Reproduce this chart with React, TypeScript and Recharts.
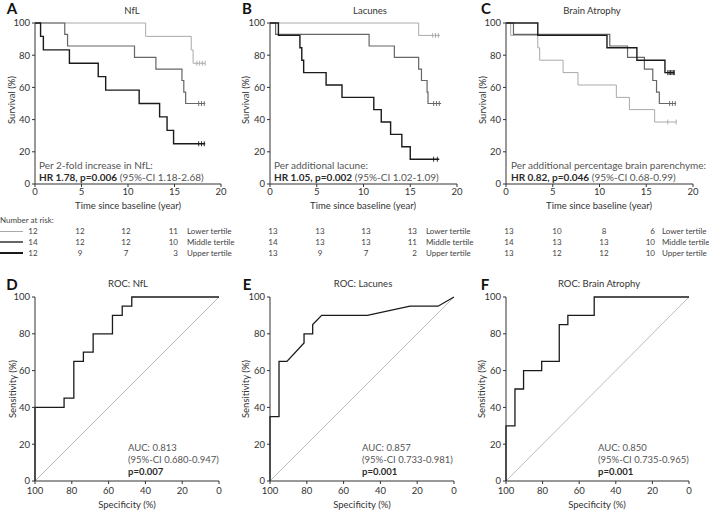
import { ComposedChart, LineChart, Line, Scatter, XAxis, YAxis } from "recharts"

// Kaplan-Meier, panel A (NfL)
const nflLowerTime = [0, 11.9, 16.8, 17.0, 18.3]
const nflLowerSurv = [100, 91.7, 83.3, 75.0, 75.0]
const nflLowerCens = [17.4, 17.7, 18.0, 18.3]
const nflMiddleTime = [0, 3.2, 3.5, 10.7, 13.0, 15.8, 16.0, 16.2, 18.3]
const nflMiddleSurv = [100, 92.9, 85.7, 78.6, 71.4, 64.3, 57.1, 50.0, 50.0]
const nflMiddleCens = [17.6, 17.9, 18.2]
const nflUpperTime = [0, 0.6, 0.9, 3.7, 6.8, 7.6, 11.2, 13.4, 14.2, 14.9, 18.3]
const nflUpperSurv = [100, 91.7, 83.3, 75.0, 66.7, 58.3, 50.0, 41.7, 33.3, 25.0, 25.0]
const nflUpperCens = [17.6, 17.9, 18.2]

// panel B (Lacunes)
const lacLowerTime = [0, 15.9, 18.2]
const lacLowerSurv = [100, 92.3, 92.3]
const lacLowerCens = [17.4, 17.7, 18.0]
const lacMiddleTime = [0, 0.6, 10.6, 13.3, 15.9, 16.2, 16.8, 16.9, 18.3]
const lacMiddleSurv = [100, 92.9, 85.7, 78.6, 71.4, 64.3, 57.1, 50.0, 50.0]
const lacMiddleCens = [17.5, 17.8, 18.1]
const lacUpperTime = [0, 0.9, 3.2, 3.4, 3.6, 6.0, 7.7, 11.1, 11.9, 12.9, 14.1, 15.0, 18.1]
const lacUpperSurv = [100, 92.3, 84.6, 76.9, 69.2, 61.5, 53.8, 46.2, 38.5, 30.8, 23.1, 15.4, 15.4]
const lacUpperCens = [17.5, 17.9]

// panel C (Brain Atrophy)
const atrLowerTime = [0, 0.5, 3.4, 3.6, 6.1, 7.7, 11.8, 13.2, 15.9, 18.2]
const atrLowerSurv = [100, 92.3, 84.6, 76.9, 69.2, 61.5, 53.8, 46.2, 38.5, 38.5]
const atrLowerCens = [17.3, 18.2]
const atrMiddleTime = [0, 0.8, 11.1, 13.0, 14.8, 15.7, 16.1, 16.4, 18.2]
const atrMiddleSurv = [100, 92.9, 85.7, 78.6, 71.4, 64.3, 57.1, 50.0, 50.0]
const atrMiddleCens = [17.5, 17.8, 18.1]
const atrUpperTime = [0, 3.4, 10.8, 14.0, 17.0, 18.0]
const atrUpperSurv = [100, 92.3, 84.6, 76.9, 69.2, 69.2]
const atrUpperCens = [17.3, 17.45, 17.6, 17.75, 17.9, 18.0]

// number at risk (at 0, 5, 10, 15 years)
const riskNfl = [[12, 12, 12, 11], [14, 12, 12, 10], [12, 9, 7, 3]]
const riskLac = [[13, 13, 13, 13], [14, 13, 13, 11], [13, 9, 7, 2]]
const riskAtr = [[13, 10, 8, 6], [14, 13, 13, 10], [13, 12, 12, 10]]
const tertileNames = ["Lower tertile", "Middle tertile", "Upper tertile"]

// ROC curves: specificity (%) and sensitivity (%)
const rocNflSpec = [100, 100, 84.2, 84.2, 78.9, 78.9, 73.7, 73.7, 68.4, 68.4, 57.9, 57.9, 52.6, 52.6, 47.4, 47.4, 0]
const rocNflSens = [0, 40, 40, 45, 45, 65, 65, 70, 70, 80, 80, 90, 90, 95, 95, 100, 100]
const rocLacSpec = [100, 100, 95.1, 95.1, 90.8, 81.5, 81.5, 76.8, 76.8, 71.9, 47.1, 23.9, 8.7, 0]
const rocLacSens = [0, 35, 35, 65, 65, 75, 80, 80, 85, 90, 90, 95, 95, 100]
const rocAtrSpec = [100, 100, 95.1, 95.1, 90.4, 90.4, 80.5, 80.5, 70.9, 70.9, 66.2, 66.2, 51.8, 51.8, 0]
const rocAtrSens = [0, 30, 30, 50, 50, 60, 60, 65, 65, 85, 85, 90, 90, 100, 100]

const kmTicksX = [0, 5, 10, 15, 20]
const pctTicks = [0, 20, 40, 60, 80, 100]

const FONT = "Lato, 'Open Sans', sans-serif"
const AXIS = "#333"
const LOWER = "#a9a9a9"
const MIDDLE = "#666"
const UPPER = "#1a1a1a"

const kmRows = (t: number[], s: number[]) => t.map((v, i) => ({ t: v, s: s[i] }))
const censRows = (t: number[], s: number) => t.map((v) => ({ t: v, s }))
const rocRows = (x: number[], y: number[]) => x.map((v, i) => ({ spec: v, sens: y[i] }))
const diagonal = rocRows([100, 0], [0, 100])

const tickStyle = { fontSize: 9.5, fill: "#333", fontFamily: FONT }

function Txt({ x, y, children, anchor = "start", size = 10, weight = 400, color = "#333", rotate = 0 }: any) {
  const tx = anchor === "middle" ? "-50%" : anchor === "end" ? "-100%" : "0"
  return (
    <div
      style={{
        position: "absolute",
        left: x,
        top: y,
        whiteSpace: "nowrap",
        lineHeight: 1,
        fontFamily: FONT,
        fontSize: size,
        fontWeight: weight,
        color,
        transform: `translate(${rotate ? "-50%" : tx}, -50%)${rotate ? ` rotate(${rotate}deg)` : ""}`,
      }}
    >
      {children}
    </div>
  )
}

const tick = (color: string, w: number) => (p: any) => (
  <line x1={p.cx} x2={p.cx} y1={p.cy - 2.5} y2={p.cy + 2.5} stroke={color} strokeWidth={w} />
)

function KmChart({ left, width, series }: any) {
  return (
    <div style={{ position: "absolute", left, top: 0 }}>
      <ComposedChart width={width} height={214} margin={{ top: 23, right: 10, left: 0, bottom: 0 }}>
        <XAxis
          type="number"
          dataKey="t"
          domain={[0, 20]}
          ticks={kmTicksX}
          allowDataOverflow
          height={30}
          tickSize={3}
          tickMargin={1}
          stroke={AXIS}
          tick={tickStyle}
        />
        <YAxis
          type="number"
          dataKey="s"
          domain={[0, 100]}
          ticks={pctTicks}
          width={35}
          tickSize={3}
          tickMargin={2}
          stroke={AXIS}
          tick={tickStyle}
        />
        {series.map((s: any, i: number) => (
          <Line
            key={"l" + i}
            data={s.rows}
            dataKey="s"
            type="stepAfter"
            stroke={s.color}
            strokeWidth={s.width}
            dot={false}
            isAnimationActive={false}
          />
        ))}
        {series.map((s: any, i: number) => (
          <Scatter
            key={"c" + i}
            data={s.cens}
            dataKey="s"
            shape={tick(s.color, 0.9)}
            isAnimationActive={false}
          />
        ))}
      </ComposedChart>
    </div>
  )
}

function RocChart({ left, width, rows }: any) {
  return (
    <div style={{ position: "absolute", left, top: 274 }}>
      <LineChart width={width} height={229} margin={{ top: 23, right: 10, left: 0, bottom: 0 }}>
        <XAxis
          type="number"
          dataKey="spec"
          domain={[0, 100]}
          ticks={pctTicks}
          reversed
          height={22}
          tickSize={3}
          tickMargin={3}
          stroke={AXIS}
          tick={tickStyle}
        />
        <YAxis
          type="number"
          dataKey="sens"
          domain={[0, 100]}
          ticks={pctTicks}
          width={35}
          tickSize={3}
          tickMargin={2}
          stroke={AXIS}
          tick={tickStyle}
        />
        <Line data={diagonal} dataKey="sens" type="linear" stroke="#b5b5b5" strokeWidth={0.9} dot={false} isAnimationActive={false} />
        <Line data={rows} dataKey="sens" type="linear" stroke="#1a1a1a" strokeWidth={1.3} dot={false} isAnimationActive={false} />
      </LineChart>
    </div>
  )
}

function KmAnnot({ x, line1, hr, ci }: any) {
  return (
    <>
      <Txt x={x} y={165} size={10} color="#555">{line1}</Txt>
      <Txt x={x} y={177} size={10} color="#555">
        <span style={{ fontWeight: 700, color: "#2a2a2a" }}>{hr}</span> {ci}
      </Txt>
    </>
  )
}

function RocAnnot({ x, auc, ci, p }: any) {
  return (
    <>
      <Txt x={x} y={448} size={9.5} color="#555">{auc}</Txt>
      <Txt x={x} y={460} size={9.5} color="#555">{ci}</Txt>
      <Txt x={x} y={472} size={9.5} weight={700} color="#2a2a2a">{p}</Txt>
    </>
  )
}

function RiskTable({ cols, endX, labelX, data }: any) {
  const rowsY = [231, 242, 253]
  return (
    <>
      {data.map((row: number[], r: number) => (
        <div key={r}>
          {row.slice(0, 3).map((v, c) => (
            <Txt key={c} x={cols[c]} y={rowsY[r]} anchor="middle" size={8} color="#444">{v}</Txt>
          ))}
          <Txt x={endX} y={rowsY[r]} anchor="end" size={8} color="#444">{row[3]}</Txt>
          <Txt x={labelX} y={rowsY[r]} size={8} color="#444">{tertileNames[r]}</Txt>
        </div>
      ))}
    </>
  )
}

export default function App() {
  const km = (lt: number[], ls: number[], lc: number[], mt: number[], ms: number[], mc: number[], ut: number[], us: number[], uc: number[]) => [
    { rows: kmRows(lt, ls), cens: censRows(lc, ls[ls.length - 1]), color: LOWER, width: 1 },
    { rows: kmRows(mt, ms), cens: censRows(mc, ms[ms.length - 1]), color: MIDDLE, width: 1.2 },
    { rows: kmRows(ut, us), cens: censRows(uc, us[us.length - 1]), color: UPPER, width: 1.4 },
  ]
  return (
    <div style={{ position: "absolute", left: 0, top: 0, width: 709, height: 511, background: "#fff", overflow: "hidden" }}>
      <KmChart left={0} width={231} series={km(nflLowerTime, nflLowerSurv, nflLowerCens, nflMiddleTime, nflMiddleSurv, nflMiddleCens, nflUpperTime, nflUpperSurv, nflUpperCens)} />
      <KmChart left={235} width={232} series={km(lacLowerTime, lacLowerSurv, lacLowerCens, lacMiddleTime, lacMiddleSurv, lacMiddleCens, lacUpperTime, lacUpperSurv, lacUpperCens)} />
      <KmChart left={471} width={232} series={km(atrLowerTime, atrLowerSurv, atrLowerCens, atrMiddleTime, atrMiddleSurv, atrMiddleCens, atrUpperTime, atrUpperSurv, atrUpperCens)} />

      <RocChart left={0} width={229} rows={rocRows(rocNflSpec, rocNflSens)} />
      <RocChart left={235} width={229} rows={rocRows(rocLacSpec, rocLacSens)} />
      <RocChart left={471} width={228} rows={rocRows(rocAtrSpec, rocAtrSens)} />

      {/* panel letters and titles */}
      <Txt x={12} y={8} anchor="middle" size={15} weight={700} color="#111">A</Txt>
      <Txt x={247} y={8} anchor="middle" size={15} weight={700} color="#111">B</Txt>
      <Txt x={486} y={8} anchor="middle" size={15} weight={700} color="#111">C</Txt>
      <Txt x={12} y={284} anchor="middle" size={15} weight={700} color="#111">D</Txt>
      <Txt x={247} y={284} anchor="middle" size={15} weight={700} color="#111">E</Txt>
      <Txt x={485} y={284} anchor="middle" size={15} weight={700} color="#111">F</Txt>

      <Txt x={132} y={11} anchor="middle" size={9.5}>NfL</Txt>
      <Txt x={370} y={11} anchor="middle" size={9.5}>Lacunes</Txt>
      <Txt x={592} y={11} anchor="middle" size={9.5}>Brain Atrophy</Txt>
      <Txt x={128} y={284} anchor="middle" size={9.5}>ROC: NfL</Txt>
      <Txt x={363} y={284} anchor="middle" size={9.5}>ROC: Lacunes</Txt>
      <Txt x={599} y={284} anchor="middle" size={9.5}>ROC: Brain Atrophy</Txt>

      {/* axis titles */}
      <Txt x={12} y={100} rotate={-90} size={9.5}>Survival (%)</Txt>
      <Txt x={246} y={100} rotate={-90} size={9.5}>Survival (%)</Txt>
      <Txt x={483} y={100} rotate={-90} size={9.5}>Survival (%)</Txt>
      <Txt x={128} y={206} anchor="middle" size={9.5}>Time since baseline (year)</Txt>
      <Txt x={363} y={206} anchor="middle" size={9.5}>Time since baseline (year)</Txt>
      <Txt x={599} y={206} anchor="middle" size={9.5}>Time since baseline (year)</Txt>
      <Txt x={13} y={389} rotate={-90} size={9.5}>Sensitivity (%)</Txt>
      <Txt x={246} y={389} rotate={-90} size={9.5}>Sensitivity (%)</Txt>
      <Txt x={482} y={389} rotate={-90} size={9.5}>Sensitivity (%)</Txt>
      <Txt x={127} y={505} anchor="middle" size={9.5}>Specificity (%)</Txt>
      <Txt x={362} y={505} anchor="middle" size={9.5}>Specificity (%)</Txt>
      <Txt x={597} y={505} anchor="middle" size={9.5}>Specificity (%)</Txt>

      <KmAnnot x={39} line1="Per 2-fold increase in NfL:" hr="HR 1.78, p=0.006" ci="(95%-CI 1.18-2.68)" />
      <KmAnnot x={274} line1="Per additional lacune:" hr="HR 1.05, p=0.002" ci="(95%-CI 1.02-1.09)" />
      <KmAnnot x={511} line1="Per additional percentage brain parenchyme:" hr="HR 0.82, p=0.046" ci="(95%-CI 0.68-0.99)" />

      <RocAnnot x={128} auc="AUC: 0.813" ci="(95%-CI 0.680-0.947)" p="p=0.007" />
      <RocAnnot x={362} auc="AUC: 0.857" ci="(95%-CI 0.733-0.981)" p="p=0.001" />
      <RocAnnot x={598} auc="AUC: 0.850" ci="(95%-CI 0.735-0.965)" p="p=0.001" />

      {/* number at risk */}
      <Txt x={0} y={220} size={8} color="#444">Number at risk:</Txt>
      <div style={{ position: "absolute", left: 0, top: 231, width: 23, height: 0, borderTop: `1px solid ${LOWER}` }} />
      <div style={{ position: "absolute", left: 0, top: 241, width: 23, height: 0, borderTop: `2px solid ${MIDDLE}` }} />
      <div style={{ position: "absolute", left: 0, top: 251.5, width: 23, height: 0, borderTop: `2.5px solid ${UPPER}` }} />
      <RiskTable cols={[33, 80, 126]} endX={178} labelX={187} data={riskNfl} />
      <RiskTable cols={[273, 320, 366]} endX={417} labelX={426} data={riskLac} />
      <RiskTable cols={[509, 557, 604]} endX={655} labelX={662} data={riskAtr} />
    </div>
  )
}
